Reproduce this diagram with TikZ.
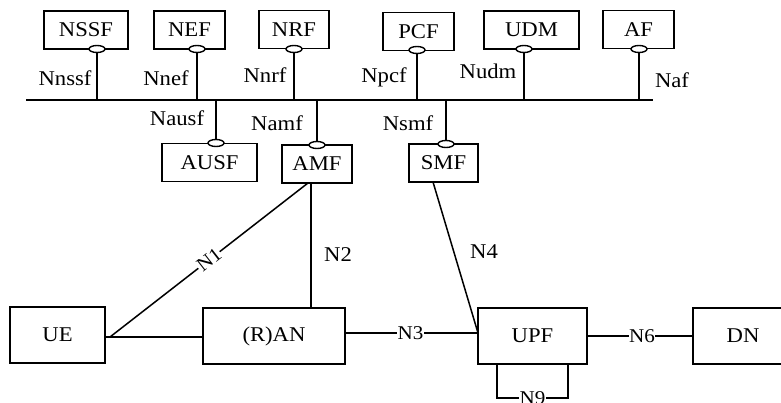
\documentclass[tikz,border=0pt]{standalone}
\usepackage{fontspec}
\setmainfont{Liberation Serif}[FakeStretch=1.08]
\usetikzlibrary{shapes.geometric}
\begin{document}
\begin{tikzpicture}[x=1pt,y=-1pt,
  nf/.style={draw,line width=1.6pt,minimum width=#1,minimum height=38pt,inner sep=0pt,
    font=\fontsize{21}{24}\selectfont},
  big/.style={draw,line width=1.6pt,minimum width=#1,minimum height=56pt,inner sep=0pt,
    font=\fontsize{21}{24}\selectfont},
  lbl/.style={inner sep=0pt,font=\fontsize{21}{24}\selectfont},
  onl/.style={fill=white,inner sep=0.5pt,font=\fontsize{19.5}{22}\selectfont},
  cn/.style={line width=1.5pt},
  svc/.style={draw,line width=1.4pt,fill=white,ellipse,minimum width=16pt,minimum height=7pt,inner sep=0pt}
]
\useasboundingbox (0,0) rectangle (781,403);
\begin{scope}
\clip (0,0) rectangle (781,403);
% bus
\coordinate (busL) at (26,100);
\coordinate (busR) at (653,100);
\draw[line width=1.8pt] (busL) -- (busR);
% top NFs
\node[nf=84pt] (nssf) at (86,30) {NSSF};
\node[nf=71pt] (nef) at (189.5,30) {NEF};
\node[nf=70pt] (nrf) at (294,29.5) {NRF};
\node[nf=71pt] (pcf) at (418.5,31.5) {PCF};
\node[nf=95pt] (udm) at (531.5,30) {UDM};
\node[nf=71pt] (af) at (638.5,29.5) {AF};
% bottom NFs
\node[nf=95pt] (ausf) at (209.5,162.5) {AUSF};
\node[nf=70pt] (amf) at (317,164) {AMF};
\node[nf=69pt] (smf) at (443.5,163) {SMF};
% service stems (top)
\coordinate (nssf-s) at (97,49);
\coordinate (nef-s) at (197,49);
\coordinate (nrf-s) at (294,49);
\coordinate (pcf-s) at (417,50);
\coordinate (udm-s) at (524,49);
\coordinate (af-s) at (639,49);
\foreach \n/\x in {nssf/97,nef/197,nrf/294,pcf/417,udm/524,af/639}{
  \coordinate (\n-b) at (\x,100);
  \draw[cn] (\n-s) -- (\n-b);
  \node[svc] (\n-e) at (\n-s) {};
}
% service stems (bottom)
\coordinate (ausf-s) at (216,143);
\coordinate (amf-s) at (317,145);
\coordinate (smf-s) at (446,144);
\foreach \n/\x in {ausf/216,amf/317,smf/446}{
  \coordinate (\n-b) at (\x,100);
  \draw[cn] (\n-b) -- (\n-s);
  \node[svc] (\n-e) at (\n-s) {};
}
% service labels
\node[lbl] (l-nssf) at (65,78) {Nnssf};
\node[lbl] (l-nef) at (166,78) {Nnef};
\node[lbl] (l-nrf) at (265,75) {Nnrf};
\node[lbl] (l-pcf) at (384,77) {Npcf};
\node[lbl] (l-udm) at (488,71) {Nudm};
\node[lbl] (l-af) at (672,80) {Naf};
\node[lbl] (l-ausf) at (177,118) {Nausf};
\node[lbl] (l-amf) at (277,123) {Namf};
\node[lbl] (l-smf) at (408,123) {Nsmf};
% access and user plane
\node[big=95pt] (ue) at (57.5,335) {UE};
\node[big=142pt] (ran) at (274,336) {(R)AN};
\node[big=109pt] (upf) at (532.5,336) {UPF};
\node[big=100pt] (dn) at (743,336) {DN};
% connectors
\coordinate (uej) at (110,337);
\coordinate (amfn1) at (308,183);
\coordinate (amfn2) at (311,183);
\coordinate (rann2) at (311,308);
\coordinate (upfw) at (478,333);
\coordinate (smfn4) at (433,182);
\draw[cn] (ue.east |- uej) -- (ran.west |- uej);
\draw[cn] (uej) -- node[onl,sloped,pos=0.5] (l-n1) {N1} (amfn1);
\draw[cn] (amfn2) -- (rann2);
\node[lbl] (l-n2) at (338,255) {N2};
\draw[cn] (ran.east |- upfw) -- node[onl,pos=0.49] (l-n3) {N3} (upfw);
\draw[cn] (smfn4) -- (upfw);
\node[lbl] (l-n4) at (484,252) {N4};
\draw[cn] (upf.east) -- node[onl,pos=0.52] (l-n6) {N6} (dn.west);
\coordinate (n9a) at (497,364);
\coordinate (n9b) at (568,364);
\draw[cn] (n9a) -- (497,398) -- node[onl,pos=0.5] (l-n9) {N9} (568,398) -- (n9b);
\end{scope}
\end{tikzpicture}
\end{document}
